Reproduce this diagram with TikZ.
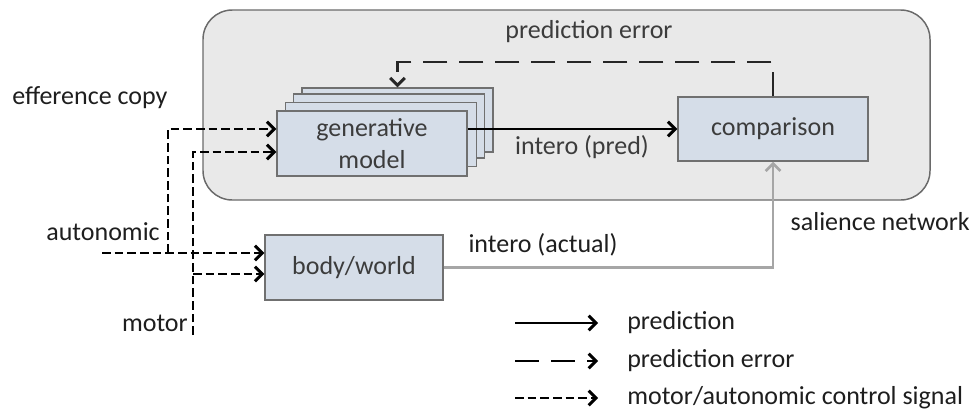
\documentclass[tikz,border=0pt]{standalone}
\usepackage{fontspec}
\setmainfont{Carlito}
\usetikzlibrary{arrows.meta,calc}
\definecolor{boxfill}{HTML}{D5DDE8}
\definecolor{boxdraw}{HTML}{707070}
\definecolor{panelfill}{HTML}{E9E9E9}
\definecolor{paneldraw}{HTML}{6A6A6A}
\definecolor{txt}{HTML}{3C3C3C}
\definecolor{outtxt}{HTML}{1E1E1E}
\definecolor{actual}{HTML}{A6A6A6}
\tikzset{
  blk/.style={draw=boxdraw, line width=1.1pt, fill=boxfill, inner sep=0pt, align=center, text=txt},
  lbl/.style={inner sep=0pt, text=txt},
  olbl/.style={inner sep=0pt, text=outtxt},
  tip/.style={-{Straight Barb[length=5.5pt,width=11pt]}},
  pred/.style={line width=2.2pt, black, tip},
  perr/.style={line width=2.2pt, black!85, dash pattern=on 18pt off 9pt, tip},
  ctrl/.style={line width=2.2pt, black, dash pattern=on 6.5pt off 3pt},
  act/.style={line width=2pt, actual, tip},
}
\begin{document}
\begin{tikzpicture}[x=0.75pt,y=-0.75pt, font=\fontsize{19.5}{24}\selectfont]
\useasboundingbox (0,0) rectangle (973,414);
% salience panel
\node[draw=paneldraw, line width=1.1pt, fill=panelfill, rounded corners=22pt, inner sep=0pt,
      minimum width=545.25pt, minimum height=142.5pt] (panel) at (566.5,105) {};
% generative model stack
\node[blk, minimum width=143.25pt, minimum height=48pt] (gen4) at (397.5,120) {};
\node[blk, minimum width=143.25pt, minimum height=48pt] (gen3) at (389,126) {};
\node[blk, minimum width=143.25pt, minimum height=48pt] (gen2) at (381,134.5) {};
\node[blk, minimum width=142.5pt, minimum height=48.75pt] (gen) at (372,143.5) {generative\\model};
% comparison
\node[blk, minimum width=142.5pt, minimum height=48pt] (comp) at (773,129) {comparison};
% body/world
\node[blk, minimum width=133.5pt, minimum height=48.75pt] (body) at (354,267.5) {body/world};
% prediction
\draw[pred] (gen.east |- comp.west) -- (comp.west);
\node[lbl] (predlbl) at (582,147) {intero (pred)};
% prediction error
\coordinate (pe) at (398,62);
\draw[perr] (comp.north) -- (comp.north |- pe) -| (gen4.north);
\node[lbl] (pelbl) at (589,32) {prediction error};
% intero actual
\draw[act] (body.east) -| (comp.south);
\node[olbl] (actlbl) at (543,245) {intero (actual)};
\node[olbl, anchor=east] (sallbl) at (970,222) {salience network};
% control signals
\coordinate (aut) at (102,253);
\coordinate (autbr) at (168,253);
\coordinate (mot) at (193,335);
\coordinate (motbr) at (193,274);
\draw[ctrl, tip] (aut) -- (aut -| body.west);
\draw[ctrl, tip] (autbr) |- ($(gen.west)+(0,-14.5)$);
\draw[ctrl, tip] (mot) |- ($(gen.west)+(0,8.5)$);
\draw[ctrl, tip] (motbr) -- (motbr -| body.west);
\node[olbl, anchor=west] (efflbl) at (12,98) {efference copy};
\node[olbl, anchor=east] (autlbl) at (160,232) {autonomic};
\node[olbl, anchor=east] (motlbl) at (188,323) {motor};
% legend
\coordinate (l1a) at (515,323); \coordinate (l1b) at (598,323);
\coordinate (l2a) at (515,361); \coordinate (l2b) at (598,361);
\coordinate (l3a) at (515,398); \coordinate (l3b) at (598,398);
\draw[pred] (l1a) -- (l1b);
\draw[perr, black] (l2a) -- (l2b);
\draw[ctrl, tip] (l3a) -- (l3b);
\node[olbl, anchor=west] (leg1) at (627,323) {prediction};
\node[olbl, anchor=west] (leg2) at (627,361) {prediction error};
\node[olbl, anchor=west] (leg3) at (627,398) {motor/autonomic control signal};
\end{tikzpicture}
\end{document}
